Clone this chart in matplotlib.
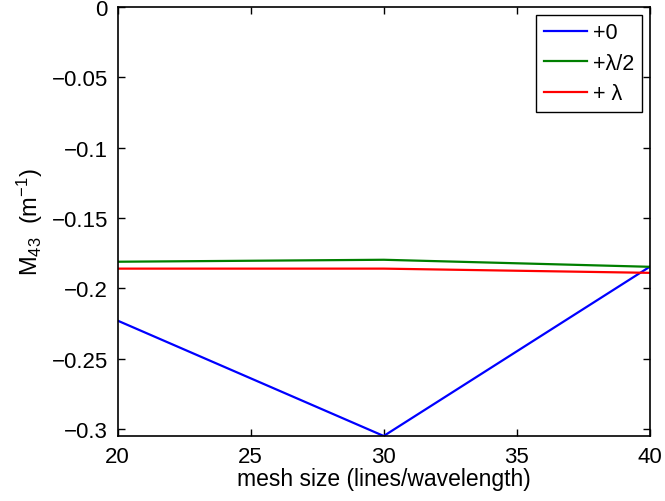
import numpy as np
import matplotlib.pyplot as plt

mesh = [20, 30, 40]
m43_0 = [-0.223, -0.305, -0.1847]
m43_half = [-0.1811, -0.1797, -0.1847]
m43_full = [-0.186, -0.186, -0.189]

plt.rcParams['font.family'] = ['Liberation Sans', 'DejaVu Sans']
plt.rcParams['mathtext.fontset'] = 'custom'
plt.rcParams['mathtext.rm'] = 'Liberation Sans'
plt.rcParams['mathtext.it'] = 'Liberation Sans'

fig = plt.figure(figsize=(6.65, 5.02), dpi=100)
ax = fig.add_axes([0.177, 0.1295, 0.8, 0.8545])

ax.plot(mesh, m43_0, color='#0000ff', lw=1.6, label='+0')
ax.plot(mesh, m43_half, color='#007f00', lw=1.6, label='+λ/2')
ax.plot(mesh, m43_full, color='#ff0000', lw=1.6, label='+ λ')

ax.set_xlim(20, 40)
ax.set_ylim(-0.305, 0)
ax.set_xticks([20, 25, 30, 35, 40])
ax.set_yticks([-0.3, -0.25, -0.2, -0.15, -0.1, -0.05, 0])
ax.set_yticklabels(['\u22120.3', '\u22120.25', '\u22120.2', '\u22120.15', '\u22120.1', '\u22120.05', '0'])

ax.tick_params(direction='in', top=True, right=True, labelsize=16, length=5, width=1)
ax.tick_params(axis='x', pad=7)
ax.tick_params(axis='y', pad=7)
for s in ax.spines.values():
    s.set_linewidth(1.2)

ax.set_xlabel('mesh size (lines/wavelength)', fontsize=16.5, labelpad=0)
ax.set_ylabel('M$_{\\mathrm{43}}$  (m$^{\\mathrm{-1}}$)', fontsize=17, labelpad=5)

leg = ax.legend(loc='upper right', fontsize=15.5, fancybox=False, framealpha=1,
                edgecolor='black', handlelength=2.0, borderaxespad=0.35,
                labelspacing=0.45, handletextpad=0.3, borderpad=0.35)
leg.get_frame().set_linewidth(1)

fig.savefig('out.png', dpi=100)
plt.close(fig)
